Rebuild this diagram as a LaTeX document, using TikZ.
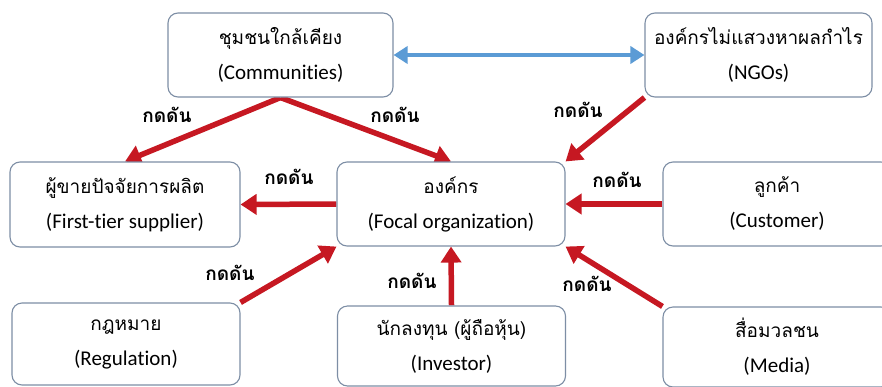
\documentclass[tikz,border=0pt]{standalone}
\usepackage{fontspec}
\setmainfont{Carlito}[RawFeature=-liga]
\newfontfamily\thai[Script=Thai]{Loma}
\usetikzlibrary{arrows.meta,backgrounds}

\definecolor{pushred}{RGB}{198,24,34}
\definecolor{linkblue}{RGB}{91,155,213}
\definecolor{boxline}{RGB}{125,142,165}

% Thai name on the first line, English name on the second
\newcommand\twoline[2]{{\thai\fontsize{19}{35}\selectfont #1}\\#2}

\begin{document}
\begin{tikzpicture}[x=1pt,y=-1pt,
  box/.style={draw=boxline, line width=1.1pt, rounded corners=10pt, fill=white,
    minimum width=228pt, minimum height=84pt, align=center, inner sep=0pt,
    font=\fontsize{21}{35}\selectfont},
  push/.style={draw=pushred, line width=5.5pt, -{Triangle[length=16pt,width=20pt]}},
  link/.style={draw=linkblue, line width=4.5pt,
    {Triangle[length=14pt,width=17pt]}-{Triangle[length=14pt,width=17pt]}},
  tag/.style={font=\thai\bfseries\fontsize{19}{20}\selectfont, text=black, inner sep=0pt}]

\useasboundingbox (0,0) rectangle (882,386);

% stakeholder boxes
\node[box, minimum width=225pt] (comm) at (280.5,55) {\twoline{ชุมชนใกล้เคียง}{(Communities)}};
\node[box, minimum width=227pt] (ngo)  at (758.5,55) {\twoline{องค์กรไม่แสวงหาผลกำไร}{(NGOs)}};
\node[box, minimum width=230pt, minimum height=85pt] (sup) at (125,204.5) {\twoline{ผู้ขายปัจจัยการผลิต}{(First-tier supplier)}};
\node[box] (foc)  at (451,204) {\twoline{องค์กร}{(Focal organization)}};
\node[box] (cust) at (777,204) {\twoline{ลูกค้า}{(Customer)}};
\node[box, minimum height=82pt] (reg)  at (126,344) {\twoline{กฎหมาย}{(Regulation)}};
\node[box, minimum height=80pt] (inv)  at (451.5,346) {\twoline{นักลงทุน (ผู้ถือหุ้น)}{(Investor)}};
\node[box, minimum height=80pt] (med)  at (777,347) {\twoline{สื่อมวลชน}{(Media)}};

% pressure connectors, drawn behind the boxes
\begin{scope}[on background layer]
  \fill[white] (0,0) rectangle (882,386);
  \draw[push] (comm.south) -- (sup.north);
  \draw[push] (comm.south) -- (foc.north);
  \draw[push] (ngo.south west) -- (foc.north east);
  \draw[push] (cust.west) -- (foc.east);
  \draw[push] (foc.west) -- (sup.east);
  \draw[push] (reg.north east) -- (foc.south west);
  \draw[push] (inv.north) -- (foc.south);
  \draw[push] (med.north west) -- (foc.south east);
  \draw[link] (comm.east) -- (ngo.west);
\end{scope}

% connector labels
\node[tag] (t1) at (167,115) {กดดัน};
\node[tag] (t2) at (395,115) {กดดัน};
\node[tag] (t3) at (578,110) {กดดัน};
\node[tag] (t4) at (617,180) {กดดัน};
\node[tag] (t5) at (289,177) {กดดัน};
\node[tag] (t6) at (230,273) {กดดัน};
\node[tag] (t7) at (412,281) {กดดัน};
\node[tag] (t8) at (587,284) {กดดัน};
\end{tikzpicture}
\end{document}
